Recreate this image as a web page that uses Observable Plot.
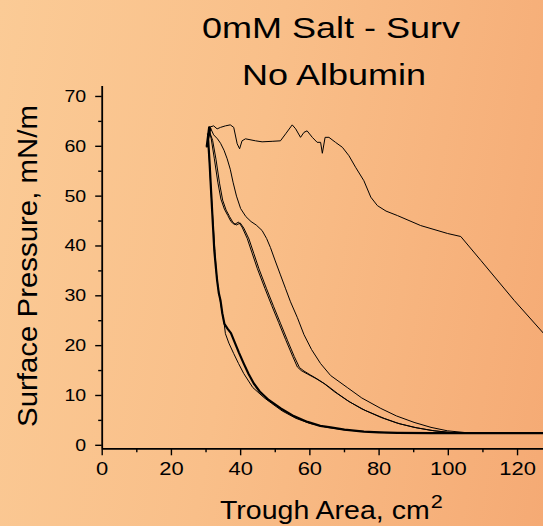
<!DOCTYPE html>
<html>
<head>
<meta charset="utf-8">
<script src="https://cdn.jsdelivr.net/npm/d3@7"></script>
<script src="https://cdn.jsdelivr.net/npm/@observablehq/plot@0.6"></script>
<style>
  html, body { margin: 0; padding: 0; }
  body { width: 543px; height: 526px; overflow: hidden; font-family: "Liberation Sans", Arial, sans-serif; }
  #page {
    position: relative; width: 543px; height: 526px; overflow: hidden;
    background: linear-gradient(100deg, #fbcb96 0%, #f9bf89 45%, #f5aa74 100%);
  }
  #title { position: relative; height: 84px; }
  .tline {
    position: absolute; font-size: 30px; line-height: 30px; white-space: nowrap; color: #000;
    transform: translateX(-50%) scaleX(1.2);
  }
  #xlabel {
    position: absolute; left: 220px; top: 498px; font-size: 25px; line-height: 25px;
    white-space: nowrap; transform: scaleX(1.14); transform-origin: 0 0; color: #000;
  }
  #xlabel .sup { font-size: 19px; position: relative; top: -11px; margin-left: 1px; }
  #ylabel {
    position: absolute; left: 28.3px; top: 266px; font-size: 28px; line-height: 28px;
    white-space: nowrap; transform: translate(-50%, -50%) rotate(-90deg) scaleX(1.05); color: #000;
  }
  svg { display: block; }
</style>
</head>
<body>
<div id="page">
  <div id="title">
    <div class="tline" style="left:330.5px; top:12.6px;">0mM Salt - Surv</div>
    <div class="tline" style="left:334px; top:59.6px;">No Albumin</div>
  </div>
  <div id="xlabel">Trough Area, cm<span class="sup">2</span></div>
  <div id="ylabel">Surface Pressure, mN/m</div>
</div>
<script>
// Axis extents and ticks
const xMax = 127.5;
const yMin = -0.7;
const yMax = 72;
const xTicks = [0, 20, 40, 60, 80, 100, 120];
const xMinorTicks = [10, 30, 50, 70, 90, 110];
const yTicks = [0, 10, 20, 30, 40, 50, 60, 70];
const yMinorTicks = [5, 15, 25, 35, 45, 55, 65];

// Isotherm A (heavy trace): area in cm², surface pressure in mN/m
const areaA = [30.9, 30.2, 31.2, 30.4, 31.0, 30.6, 31.0, 31.5, 32.0, 32.4, 32.8, 33.2, 33.7, 34.2, 34.7, 35.3, 36.2, 37.2, 38.2, 39.5, 40.9, 42.3, 43.8, 45.5, 48.1, 51.6, 55.0, 59.3, 63.0, 66.0, 70.0, 75.6, 80.0, 85.3, 95.0, 110.0, 127.5];
const pressA = [63.8, 60.0, 63.5, 60.8, 62.8, 61.5, 57.0, 50.5, 44.0, 39.0, 36.0, 33.1, 30.5, 29.0, 26.5, 24.4, 23.4, 22.5, 20.8, 18.6, 16.4, 14.3, 12.4, 10.8, 9.1, 7.4, 6.0, 4.7, 3.9, 3.6, 3.15, 2.75, 2.6, 2.5, 2.45, 2.45, 2.45];

// Isotherm B (thin trace beside A)
const areaB = [30.4, 30.9, 31.4, 32.0, 32.5, 33.0, 33.5, 34.1, 34.7, 35.2, 35.6, 36.6, 38.0, 39.4, 40.9, 43.5, 46.7, 49.0, 52.0, 56.0, 60.0, 65.0, 70.0, 76.0, 82.0, 90.0, 100.0, 127.5];
const pressB = [62.5, 58.0, 51.5, 45.0, 39.5, 34.5, 31.5, 29.0, 26.5, 24.6, 22.4, 20.5, 18.4, 16.4, 14.4, 11.6, 9.6, 8.4, 6.9, 5.4, 4.4, 3.6, 3.1, 2.75, 2.55, 2.45, 2.4, 2.4];

// Isotherms C1 and C2 (middle pair)
const areaC1 = [30.8, 31.5, 32.4, 33.4, 34.3, 35.3, 36.3, 37.2, 38.2, 39.4, 40.4, 41.9, 43.3, 44.8, 47.0, 49.0, 51.0, 53.0, 55.0, 56.4, 57.5, 59.3, 61.5, 64.1, 67.0, 70.8, 75.0, 80.5, 85.0, 90.1, 95.0, 99.8, 105.0, 127.5];
const pressC1 = [63.5, 61.5, 57.5, 52.8, 49.4, 47.4, 46.1, 44.9, 44.3, 44.8, 43.8, 41.5, 38.6, 35.5, 31.5, 28.0, 24.6, 21.2, 17.9, 15.7, 15.0, 14.3, 13.5, 12.4, 10.8, 9.0, 7.3, 5.6, 4.5, 3.6, 3.0, 2.6, 2.45, 2.4];
const areaC2 = [31.0, 31.9, 32.9, 33.9, 34.8, 35.8, 36.8, 37.7, 38.7, 39.9, 40.9, 42.4, 43.8, 45.3, 47.5, 49.5, 51.5, 53.5, 55.5, 57.0, 58.3, 60.2, 62.4, 65.0, 68.0, 71.5, 76.0, 81.5, 86.0, 91.0, 96.0, 100.5, 106.0, 127.5];
const pressC2 = [63.0, 61.2, 57.3, 52.6, 49.2, 47.2, 45.9, 44.8, 44.2, 44.6, 43.6, 41.4, 38.5, 35.4, 31.4, 27.9, 24.5, 21.1, 17.8, 15.6, 14.9, 14.1, 13.2, 12.0, 10.4, 8.7, 7.0, 5.4, 4.3, 3.5, 2.9, 2.6, 2.45, 2.4];

// Isotherm D (right of the pair)
const areaD = [31.2, 32.2, 33.3, 34.2, 35.2, 36.1, 37.0, 37.8, 38.8, 40.0, 41.5, 43.0, 44.5, 46.2, 47.5, 48.6, 50.0, 51.5, 53.0, 54.4, 56.4, 58.3, 60.5, 63.1, 66.0, 70.8, 75.0, 80.5, 85.0, 90.1, 95.0, 99.8, 105.0, 127.5];
const pressD = [63.8, 62.3, 61.5, 60.6, 59.2, 57.5, 55.4, 52.8, 50.0, 47.5, 45.9, 44.9, 44.2, 43.1, 41.5, 39.7, 37.0, 34.2, 31.4, 28.8, 25.6, 22.2, 19.2, 16.4, 14.0, 11.6, 9.5, 7.4, 5.9, 4.6, 3.6, 2.9, 2.55, 2.45];

// Isotherm E (first compression, plateau near collapse)
const areaE = [30.8, 32.2, 33.2, 34.2, 35.6, 37.0, 38.0, 39.0, 39.7, 40.4, 41.4, 44.3, 46.2, 49.1, 51.5, 53.0, 54.9, 55.9, 57.3, 58.3, 59.2, 60.7, 62.1, 63.1, 63.6, 64.4, 65.5, 67.4, 69.4, 71.3, 73.2, 75.6, 77.6, 79.5, 82.0, 85.3, 92.0, 99.8, 103.6, 109.4, 119.0, 127.6];
const pressE = [63.8, 64.1, 63.5, 63.8, 64.1, 64.3, 63.8, 60.5, 59.5, 61.1, 61.5, 61.1, 60.9, 61.0, 61.1, 62.5, 64.3, 63.5, 61.8, 62.8, 63.1, 61.8, 60.8, 60.8, 58.6, 61.8, 61.8, 60.8, 59.8, 58.1, 55.8, 53.1, 49.8, 48.1, 47.0, 46.1, 44.1, 42.5, 41.9, 37.1, 29.1, 22.4];

const toRows = (xs, ys) => xs.map((x, i) => ({area: x, pressure: ys[i]}));
const thinCurves = [
  toRows(areaB, pressB),
  toRows(areaC1, pressC1),
  toRows(areaC2, pressC2),
  toRows(areaD, pressD),
  toRows(areaE, pressE)
];
const heavyCurve = toRows(areaA, pressA);

const lineOpts = {x: "area", y: "pressure", stroke: "#000", strokeLinejoin: "round", clip: true};

const chart = Plot.plot({
  width: 543,
  height: 442,
  marginLeft: 101.7,
  marginRight: 0,
  marginTop: 2,
  marginBottom: 77.7,
  style: {background: "transparent", overflow: "visible", fontFamily: "\"Liberation Sans\", Arial, sans-serif", color: "#000"},
  x: {domain: [0, xMax]},
  y: {domain: [yMin, yMax]},
  marks: [
    ...thinCurves.map(c => Plot.line(c, {...lineOpts, strokeWidth: 1})),
    Plot.line(heavyCurve, {...lineOpts, strokeWidth: 2.2}),
    Plot.axisX({ticks: xMinorTicks, tickSize: 4, tickFormat: () => "", strokeWidth: 1.4, label: null}),
    Plot.axisX({ticks: xTicks, tickSize: 7, tickPadding: 6.5, fontSize: 18, strokeWidth: 1.4, label: null}),
    Plot.axisY({ticks: yMinorTicks, tickSize: 3.5, tickFormat: () => "", strokeWidth: 1.4, label: null}),
    Plot.axisY({ticks: yTicks, tickSize: 6.5, tickPadding: 9.5, fontSize: 17, strokeWidth: 1.4, label: null}),
    Plot.ruleX([0], {strokeWidth: 1.8}),
    Plot.ruleY([yMin], {strokeWidth: 1.8})
  ]
});

// Widen the tick numerals slightly about their anchor points
const widen = (sel, s) => chart.querySelectorAll(sel).forEach(t => {
  const tr = t.getAttribute("transform") || "";
  t.setAttribute("transform", tr + ` scale(${s},1)`);
});
widen('g[aria-label="x-axis tick label"] text', 1.22);
widen('g[aria-label="y-axis tick label"] text', 1.15);

document.getElementById("page").appendChild(chart);
</script>
</body>
</html>
